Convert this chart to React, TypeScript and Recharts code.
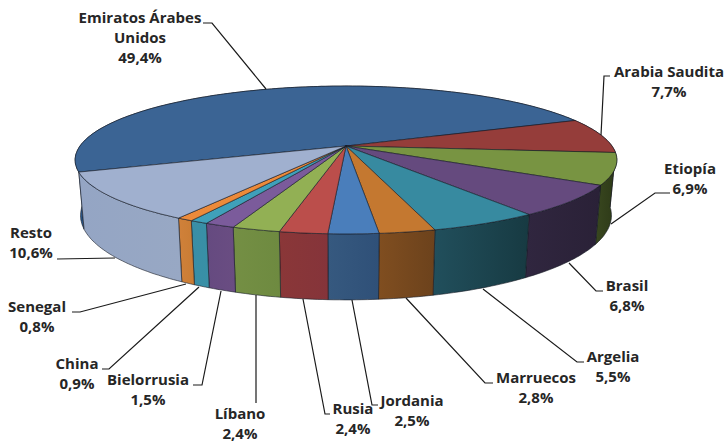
import { PieChart, Pie } from "recharts";

const countries = [
  "Emiratos Árabes Unidos", "Arabia Saudita", "Etiopía", "Brasil", "Argelia", "Marruecos", "Jordania",
  "Rusia", "Líbano", "Bielorrusia", "China", "Senegal", "Resto",
];
const shares = [49.4, 7.7, 6.9, 6.8, 5.5, 2.8, 2.5, 2.4, 2.4, 1.5, 0.9, 0.8, 10.6];

const topColors = [
  "#3b6494", "#953d3a", "#789442", "#654a7e", "#378aa0", "#c47830", "#4a7ebb",
  "#bb4e4b", "#92b054", "#7b5b9b", "#3fa0ba", "#ec8a3a", "#a0b0cf",
];
// wall shading, left edge -> right edge
const wallColors = [
  ["#2a5688", "#2c5585"], ["#5a2523", "#5a2523"], ["#39471f", "#2c3817"], ["#30263f", "#2a2137"],
  ["#214f5c", "#173a42"], ["#804e20", "#6c421c"], ["#36597f", "#2f5078"], ["#8a3738", "#85343a"],
  ["#748f44", "#6e8a40"], ["#654a80", "#6a4d82"], ["#3a8ea6", "#3890a6"], ["#d0813a", "#c97c34"],
  ["#94a5c4", "#98a8c4"],
];

const labelRows: Record<string, string[]> = { "Emiratos Árabes Unidos": ["Emiratos Árabes", "Unidos"] };
// label centre x, first baseline y
const labelPos = [
  [140, 23], [669, 77], [690, 174], [627, 291], [613, 362], [536, 383], [412, 406],
  [353, 414], [240, 419], [148, 385], [77, 369], [37, 312], [31, 238],
];
const leaders = [
  "203,23 212,23 266,89", "601,135 604,76 610,76", "611,224 655,193 670,193", "569,263 596,291 603,291",
  "483,289 577,362 584,362", "406,298 485,383 493,383", "352,300 372,405 378,405", "303,299 325,414 330,414",
  "256,295 256,403", "221,291 202,385 193,385", "199,287 109,369 102,369", "186,284 80,312 72,312",
  "115,258 57,259",
];

const rows = countries.map((name, i) => ({ name, value: shares[i], fill: topColors[i] }));

const PERSP = 0.189;
const FLAT = 0.268;
const DEPTH = 53.5;

function project(cx: number, cy: number, r: number, deg: number, bottom = false) {
  const a = (deg * Math.PI) / 180;
  const u = Math.cos(a);
  const v = -Math.sin(a);
  const w = 1 - PERSP * v;
  if (bottom) return [cx + (0.98 * r * u) / w, cy + (FLAT * r * v) / w + DEPTH / w];
  return [cx + (r * u) / w, cy + (FLAT * r * v) / w];
}

function arcPoints(cx: number, cy: number, r: number, from: number, to: number, bottom = false) {
  const steps = Math.max(2, Math.ceil(Math.abs(from - to)));
  const pts: number[][] = [];
  for (let i = 0; i <= steps; i++) pts.push(project(cx, cy, r, from + ((to - from) * i) / steps, bottom));
  return pts;
}

const toPath = (pts: number[][]) => pts.map((p, i) => `${i ? "L" : "M"}${p[0].toFixed(1)},${p[1].toFixed(1)}`).join(" ");

function Slice(props: any) {
  const { cx, cy, outerRadius, startAngle, endAngle, fill, index } = props;
  const rim = arcPoints(cx, cy, outerRadius, startAngle, endAngle);
  const base = arcPoints(cx, cy, outerRadius, endAngle, startAngle, true);
  const xs = rim.concat(base).map((p) => p[0]);
  const id = `wall-${index}`;
  const edge = "rgba(20,25,35,0.75)";
  return (
    <g>
      <defs>
        <linearGradient id={id} gradientUnits="userSpaceOnUse" x1={Math.min(...xs)} x2={Math.max(...xs)} y1={0} y2={0}>
          <stop offset="0%" stopColor={wallColors[index][0]} />
          <stop offset="100%" stopColor={wallColors[index][1]} />
        </linearGradient>
      </defs>
      <path d={`${toPath(rim.concat(base))} Z`} fill={`url(#${id})`} stroke={edge} strokeWidth={0.8} />
      <path d={`M${cx},${cy} ${toPath(rim).replace("M", "L")} Z`} fill={fill} stroke={edge} strokeWidth={0.8} />
    </g>
  );
}

function SliceLabel(props: any) {
  const { index, name, value } = props;
  const [x, y] = labelPos[index];
  const lines = [...(labelRows[name] ?? [name]), `${value.toFixed(1).replace(".", ",")}%`];
  return (
    <g>
      <polyline points={leaders[index]} fill="none" stroke="#1a1a1a" strokeWidth={1.2} />
      <text x={x} y={y} textAnchor="middle" fontFamily="Open Sans" fontWeight={700} fontSize={15} fill="#262626">
        {lines.map((t, i) => (
          <tspan key={t} x={x} dy={i ? 20 : 0}>{t}</tspan>
        ))}
      </text>
    </g>
  );
}

export default function App() {
  return (
    <div style={{ position: "absolute", left: 0, top: 0, width: 725, height: 443, background: "#fff" }}>
      <PieChart width={725} height={443} margin={{ top: 0, right: 0, bottom: 0, left: 0 }}>
        <Pie
          data={rows}
          dataKey="value"
          nameKey="name"
          cx={346}
          cy={146}
          outerRadius={266}
          startAngle={200}
          endAngle={-160}
          shape={Slice}
          label={SliceLabel}
          labelLine={false}
          isAnimationActive={false}
        />
      </PieChart>
    </div>
  );
}
